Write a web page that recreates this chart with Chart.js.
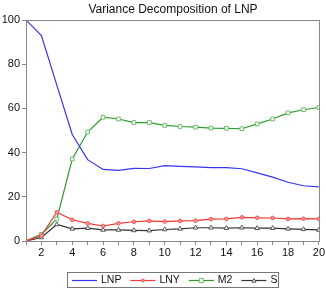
<!DOCTYPE html>
<html>
<head>
<meta charset="utf-8">
<script src="https://cdn.jsdelivr.net/npm/chart.js@4"></script>
<style>
  html, body { margin: 0; padding: 0; background: #fff; }
  #wrap { width: 326px; height: 290px; position: relative; }
</style>
</head>
<body>
<div id="wrap"><canvas id="chart" width="326" height="290"></canvas></div>
<script>
// Periods on the x axis
const periods = [1, 2, 3, 4, 5, 6, 7, 8, 9, 10, 11, 12, 13, 14, 15, 16, 17, 18, 19, 20]

// Series values
const lnp = [100, 93, 70.5, 48.2, 36.8, 32.4, 32, 32.9, 32.8, 34.1, 33.8, 33.5, 33.2, 33.2, 32.7, 30.8, 28.9, 26.6, 25, 24.5]
const lny = [0, 2.5, 13, 9.6, 8, 6.8, 8, 8.7, 9.1, 8.8, 9.1, 9.2, 9.9, 10, 10.7, 10.5, 10.4, 10, 10.1, 10]
const m2 = [0, 3, 10, 37.1, 49.3, 56, 55.2, 53.6, 53.6, 52.3, 51.8, 51.5, 51.1, 51, 50.8, 53, 55.2, 58, 59.4, 60.4]
const s = [0, 1.6, 7.5, 5.5, 5.8, 5, 5, 4.8, 4.7, 5.2, 5.5, 6, 6, 5.8, 6, 5.8, 5.8, 5.5, 5.3, 5]

const yTicks = [0, 20, 40, 60, 80, 100]
const title = "Variance Decomposition of LNP"

const FONT = "'Liberation Sans', Arial, sans-serif"

function toPoints(values) {
  return values.map((v, i) => ({ x: periods[i], y: v }))
}

// Frame around the plot area plus the title
const framePlugin = {
  id: "frame",
  afterDraw(chart) {
    const { ctx, chartArea } = chart
    ctx.save()
    ctx.strokeStyle = "#8a8a8a"
    ctx.lineWidth = 1
    ctx.strokeRect(Math.round(chartArea.left) + 0.5, Math.round(chartArea.top) + 0.5,
      Math.round(chartArea.right - chartArea.left), Math.round(chartArea.bottom - chartArea.top))
    ctx.fillStyle = "#111"
    ctx.font = "12px " + FONT
    ctx.textAlign = "center"
    ctx.textBaseline = "middle"
    ctx.fillText(title, 173, 10)
    ctx.restore()
  }
}

function drawMarker(ctx, style, cx, cy, r) {
  ctx.beginPath()
  if (style === "rect") {
    ctx.rect(cx - r, cy - r, 2 * r, 2 * r)
  } else if (style === "triangle") {
    ctx.moveTo(cx, cy - r)
    ctx.lineTo(cx + r, cy + r * 0.8)
    ctx.lineTo(cx - r, cy + r * 0.8)
    ctx.closePath()
  } else {
    ctx.arc(cx, cy, r, 0, Math.PI * 2)
  }
  ctx.fill()
  ctx.stroke()
}

// Boxed legend below the chart, with line + marker samples
const legendPlugin = {
  id: "boxLegend",
  afterDraw(chart) {
    const { ctx } = chart
    ctx.save()
    ctx.strokeStyle = "#777"
    ctx.lineWidth = 1
    ctx.strokeRect(67.5, 272.5, 211, 15)
    ctx.font = "10.5px " + FONT
    ctx.textBaseline = "middle"
    let x = 72
    const y = 280.5
    chart.data.datasets.forEach(ds => {
      ctx.strokeStyle = ds.borderColor
      ctx.lineWidth = 1.2
      ctx.beginPath()
      ctx.moveTo(x, y)
      ctx.lineTo(x + 25, y)
      ctx.stroke()
      if (ds.pointRadius > 0) {
        ctx.lineWidth = 1
        ctx.fillStyle = ds.pointBackgroundColor
        ctx.strokeStyle = ds.pointBorderColor
        drawMarker(ctx, ds.pointStyle, x + 12.5, y, ds.pointRadius * 0.8)
      }
      ctx.fillStyle = "#111"
      ctx.fillText(ds.label, x + 29, y)
      x += 29 + ctx.measureText(ds.label).width + 9
    })
    ctx.restore()
  }
}

new Chart(document.getElementById("chart"), {
  type: "line",
  data: {
    datasets: [
      {
        label: "LNP",
        data: toPoints(lnp),
        borderColor: "#3535f5",
        borderWidth: 1.2,
        pointRadius: 0,
        tension: 0
      },
      {
        label: "LNY",
        data: toPoints(lny),
        borderColor: "#f23535",
        borderWidth: 1.2,
        pointStyle: "circle",
        pointRadius: 1.8,
        pointBackgroundColor: "#ff9a9a",
        pointBorderColor: "#f25050",
        pointBorderWidth: 1
      },
      {
        label: "M2",
        data: toPoints(m2),
        borderColor: "#2e9a2e",
        borderWidth: 1.2,
        pointStyle: "rect",
        pointRadius: 2.6,
        pointBackgroundColor: "#ffffff",
        pointBorderColor: "#6cbf6c",
        pointBorderWidth: 1
      },
      {
        label: "S",
        data: toPoints(s),
        borderColor: "#333333",
        borderWidth: 1.2,
        pointStyle: "triangle",
        pointRadius: 2.6,
        pointBackgroundColor: "#ffffff",
        pointBorderColor: "#555555",
        pointBorderWidth: 1
      }
    ]
  },
  options: {
    responsive: false,
    animation: false,
    layout: { padding: { top: 20, right: 7, left: 0, bottom: 0 } },
    plugins: {
      legend: { display: false },
      title: { display: false },
      tooltip: { enabled: false }
    },
    scales: {
      x: {
        type: "linear",
        min: 1,
        max: 20,
        afterFit(scale) { scale.height = 49 },
        afterBuildTicks(scale) {
          scale.ticks = periods.map(v => ({ value: v }))
        },
        ticks: {
          autoSkip: false,
          maxRotation: 0,
          padding: 1,
          color: "#111",
          font: { family: FONT, size: 11 },
          callback: v => (v % 2 === 0 ? String(v) : "")
        },
        grid: {
          drawOnChartArea: false,
          drawTicks: true,
          tickLength: 4,
          color: "#8a8a8a"
        },
        border: { color: "#8a8a8a" }
      },
      y: {
        min: 0,
        max: 100,
        afterFit(scale) { scale.width = 26 },
        afterBuildTicks(scale) {
          scale.ticks = yTicks.map(v => ({ value: v }))
        },
        ticks: {
          padding: 2,
          color: "#111",
          font: { family: FONT, size: 11 }
        },
        grid: {
          drawOnChartArea: false,
          drawTicks: true,
          tickLength: 4,
          color: "#8a8a8a"
        },
        border: { color: "#8a8a8a" }
      }
    }
  },
  plugins: [framePlugin, legendPlugin]
})
</script>
</body>
</html>
